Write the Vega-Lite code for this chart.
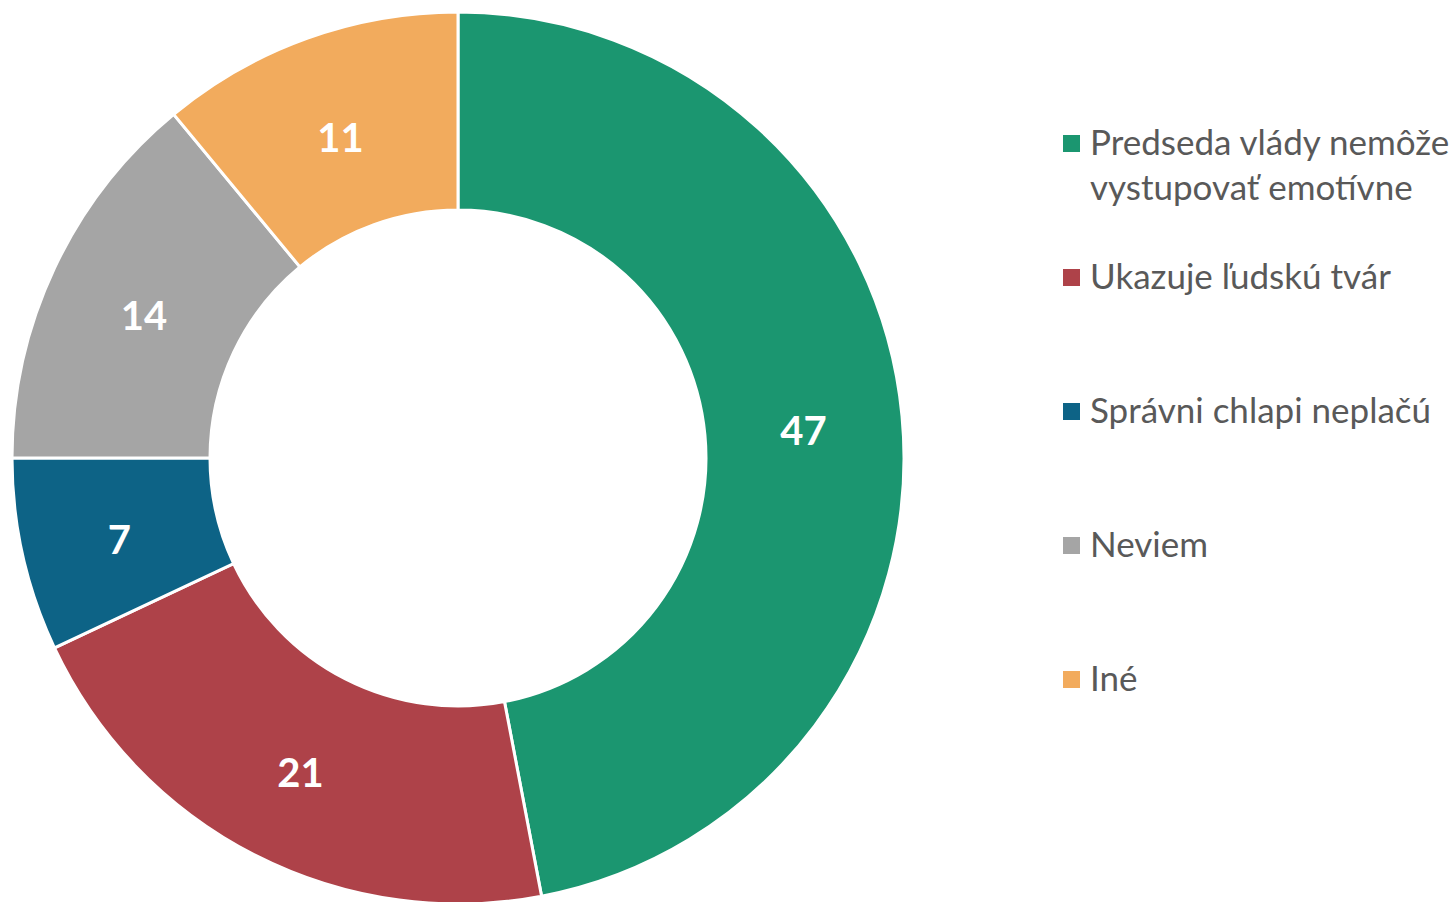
{
  "$schema": "https://vega.github.io/schema/vega-lite/v6.json",
  "width": 916,
  "height": 916,
  "padding": 0,
  "autosize": {"type": "pad"},
  "background": "white",
  "config": {
    "view": {"stroke": null},
    "style": {"guide-label": {"lineHeight": 45}}
  },
  "data": {
    "values": [
      {"kategoria": "Predseda vlády nemôže vystupovať emotívne", "hodnota": 47, "poradie": 1},
      {"kategoria": "Ukazuje ľudskú tvár", "hodnota": 21, "poradie": 2},
      {"kategoria": "Správni chlapi neplačú", "hodnota": 7, "poradie": 3},
      {"kategoria": "Neviem", "hodnota": 14, "poradie": 4},
      {"kategoria": "Iné", "hodnota": 11, "poradie": 5}
    ]
  },
  "encoding": {
    "theta": {"field": "hodnota", "type": "quantitative", "stack": true},
    "order": {"field": "poradie", "type": "quantitative"},
    "color": {
      "field": "kategoria",
      "type": "nominal",
      "sort": ["Predseda vlády nemôže vystupovať emotívne", "Ukazuje ľudskú tvár", "Správni chlapi neplačú", "Neviem", "Iné"],
      "scale": {
        "domain": ["Predseda vlády nemôže vystupovať emotívne", "Ukazuje ľudskú tvár", "Správni chlapi neplačú", "Neviem", "Iné"],
        "range": ["#1B9670", "#AE4249", "#0D6386", "#A5A5A5", "#F2AB5D"]
      },
      "legend": {
        "title": null,
        "orient": "none",
        "legendX": 1054,
        "legendY": 126,
        "symbolType": "square",
        "symbolSize": 289,
        "symbolStrokeWidth": 0,
        "labelFont": "Lato",
        "labelFontSize": 35,
        "labelColor": "#595959",
        "labelOffset": 1,
        "labelLimit": 500,
        "rowPadding": 53,
        "labelExpr": "datum.label == 'Predseda vlády nemôže vystupovať emotívne' ? ['Predseda vlády nemôže', 'vystupovať emotívne'] : [datum.label, '']"
      }
    }
  },
  "layer": [
    {
      "mark": {"type": "arc", "innerRadius": 248, "outerRadius": 446, "stroke": "white", "strokeWidth": 3}
    },
    {
      "mark": {"type": "text", "radius": 347, "dy": 8, "font": "Lato", "fontSize": 40, "fontWeight": "bold", "fill": "white"},
      "encoding": {
        "text": {"field": "hodnota", "type": "quantitative"},
        "color": {"value": "white"}
      }
    }
  ]
}
